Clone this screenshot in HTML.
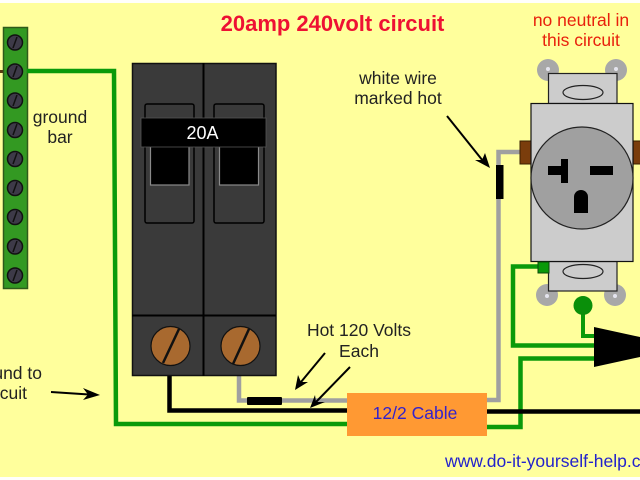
<!DOCTYPE html>
<html><head><meta charset="utf-8"><style>
html,body{margin:0;padding:0;width:640px;height:480px;overflow:hidden;background:#fff}
svg{display:block;filter:blur(.35px)}
text{font-family:"Liberation Sans",sans-serif}
</style></head><body>
<svg width="640" height="480" viewBox="0 0 640 480" xmlns="http://www.w3.org/2000/svg">
<rect width="640" height="480" fill="#fffffb"/>
<rect y="3" width="640" height="474" fill="#ffff9c"/>

<!-- ground bar -->
<path d="M0 71.500H5" stroke="#5a3a10" stroke-width="3"/>
<rect x="3.500" y="27.500" width="24" height="261" fill="#339922" stroke="#2f5a1a" stroke-width="1.500"/>
<g fill="#3d3a48" stroke="#111" stroke-width="1.500">
<circle cx="15" cy="42.500" r="7.500"/><circle cx="15" cy="71.500" r="7.500"/><circle cx="15" cy="100.500" r="7.500"/><circle cx="15" cy="130" r="7.500"/><circle cx="15" cy="159" r="7.500"/><circle cx="15" cy="188" r="7.500"/><circle cx="15" cy="217" r="7.500"/><circle cx="15" cy="246.500" r="7.500"/><circle cx="15" cy="275.500" r="7.500"/>
</g>
<g stroke="#111" stroke-width="1.500">
<path d="M17 37L13 48M17 66L13 77M17 95L13 106M17 124L13 135M17 153L13 164M17 182L13 193M17 211L13 222M17 241L13 252M17 270L13 281"/>
</g>

<!-- green wires -->
<g fill="none" stroke="#0a9a0a" stroke-width="4.500">
<path d="M27 71H114L116 424H348"/>
<path d="M487 427H520.500V358.500H595"/>
<path d="M540 266.500H513V345.500H595"/>
<path d="M583 310V336H595" stroke-width="4"/>
</g>
<circle cx="583" cy="305.500" r="9.500" fill="#0a8f0a"/>

<!-- black and grey wires -->
<path d="M169.500 375V410.500H348M487 411.500H640" fill="none" stroke="#000" stroke-width="4.500"/>
<path d="M239 375V400.500H348M487 400H498.500V152H524" fill="none" stroke="#a0a0a0" stroke-width="4.500"/>
<rect x="247" y="397" width="35" height="8" rx="1" fill="#000"/>
<rect x="496" y="165" width="7.500" height="34" fill="#000"/>

<!-- breaker -->
<rect x="132.500" y="63.500" width="143.500" height="312" fill="#3a3a3a" stroke="#111" stroke-width="1.500"/>
<path d="M203.500 63V376M132 315.500H276" stroke="#000" stroke-width="2"/>
<rect x="145" y="104" width="49" height="119" rx="2" fill="#3a3a3a" stroke="#000" stroke-width="1.500"/>
<rect x="214" y="104" width="50" height="119" rx="2" fill="#3a3a3a" stroke="#000" stroke-width="1.500"/>
<rect x="150.500" y="145" width="38.500" height="40" fill="#000" stroke="#8a8a8a" stroke-width="1.200"/>
<rect x="219.500" y="145" width="39" height="40" fill="#000" stroke="#8a8a8a" stroke-width="1.200"/>
<rect x="141" y="118" width="125" height="29" fill="#000" stroke="#555" stroke-width=".8"/>
<text x="202.500" y="139" font-size="18" fill="#fff" text-anchor="middle">20A</text>
<circle cx="170.500" cy="346" r="19.500" fill="#a8692f" stroke="#111" stroke-width="1.200"/>
<circle cx="240.500" cy="346" r="19.500" fill="#a8692f" stroke="#111" stroke-width="1.200"/>
<path d="M179 329L163 363M249 329L233 364" stroke="#111" stroke-width="2.500"/>

<!-- cable -->
<rect x="347" y="393" width="140" height="43" fill="#ff9933"/>
<text x="415" y="419" font-size="17.500" fill="#3322cc" text-anchor="middle">12/2 Cable</text>

<!-- receptacle -->
<g fill="#a8a8a8">
<circle cx="548" cy="70" r="11"/><circle cx="616" cy="70" r="11"/><circle cx="547" cy="295" r="11"/><circle cx="615" cy="295" r="11"/>
</g>
<g fill="#e4e4ee"><circle cx="548" cy="69" r="2"/><circle cx="616" cy="69" r="2"/><circle cx="547" cy="296" r="2"/><circle cx="615" cy="296" r="2"/></g>
<rect x="520" y="141" width="12" height="23" fill="#7a3d0c" stroke="#3a2000"/>
<rect x="633" y="141" width="10" height="23" fill="#7a3d0c" stroke="#3a2000"/>
<rect x="548.500" y="73.500" width="68.500" height="30" fill="#cccccc" stroke="#222" stroke-width="1.200"/>
<rect x="548.500" y="261.500" width="68.500" height="29.500" fill="#cccccc" stroke="#222" stroke-width="1.200"/>
<ellipse cx="583" cy="92.500" rx="20" ry="7" fill="#cccccc" stroke="#222" stroke-width="1.200"/>
<ellipse cx="583" cy="271.500" rx="20" ry="7" fill="#cccccc" stroke="#222" stroke-width="1.200"/>
<rect x="531" y="103.500" width="102" height="158" fill="#cccccc" stroke="#111" stroke-width="1.200"/>
<circle cx="582" cy="178" r="51" fill="#a0a0a0" stroke="#222" stroke-width="1.200"/>
<path d="M548 166H561V159H568V183H561V175H548Z" fill="#000"/>
<rect x="590" y="166" width="23" height="9" fill="#000"/>
<path d="M574 213V197A7 7 0 0 1 588 197V213Z" fill="#000"/>
<rect x="538" y="262" width="11" height="11" fill="#0a9a0a" stroke="#0a4a0a"/>

<!-- plug -->
<path d="M594 327L640 337V357L594 367Z" fill="#000"/>

<!-- arrows -->
<g fill="none" stroke="#000" stroke-width="2">
<path d="M447 116L483 161"/>
<path d="M325 353L301 382"/>
<path d="M350 367L316 402"/>
<path d="M51 392L89 394.500"/>
</g>
<g fill="#000">
<path d="M490 168L475 160L482 160L485 153Z"/>
<path d="M295 390L298 375L301 382L308 382Z"/>
<path d="M310 408L315 395L316 402L325 402Z"/>
<path d="M100 395L83 388L88 394.500L83 400Z"/>
</g>

<!-- labels -->
<text x="332.500" y="31" font-size="22" font-weight="bold" fill="#ee1133" text-anchor="middle">20amp 240volt circuit</text>
<g font-size="17.500" fill="#e8200c" text-anchor="middle">
<text x="581" y="26">no neutral in</text>
<text x="581" y="46">this circuit</text>
</g>
<g font-size="17.500" fill="#222" text-anchor="middle">
<text x="398" y="84">white wire</text>
<text x="398" y="104">marked hot</text>
<text x="60" y="123">ground</text>
<text x="60" y="143">bar</text>
<text x="359" y="336">Hot 120 Volts</text>
<text x="359" y="357">Each</text>
<text x="42" y="379" text-anchor="end">ground to</text>
<text x="27" y="399" text-anchor="end">circuit</text>
</g>
<text x="445" y="467" font-size="17.500" fill="#2222cc">www.do-it-yourself-help.com</text>
</svg>
</body></html>
